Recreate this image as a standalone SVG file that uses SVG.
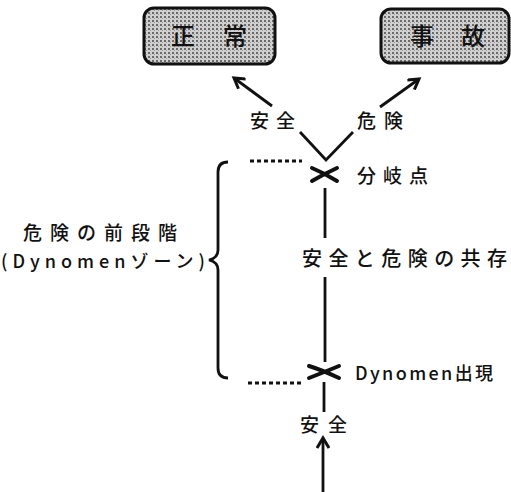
<svg xmlns="http://www.w3.org/2000/svg" width="511" height="492" viewBox="0 0 511 492">
<style>
.t{font-family:"Noto Sans CJK JP","Noto Sans",sans-serif;fill:#111;font-weight:500;}
.box{fill:url(#tone);stroke:#111;stroke-width:3;}
.ln{stroke:#111;stroke-width:2.8;fill:none;}
.x{stroke:#111;stroke-width:4;fill:none;stroke-linecap:round;}
.dot{stroke:#111;stroke-width:3;stroke-dasharray:4 3;fill:none;}
</style>
<defs>
<pattern id="tone" width="4" height="4" patternUnits="userSpaceOnUse">
<rect width="4" height="4" fill="#d0d0d0"/>
<rect width="2" height="2" fill="#6a6a6a"/>
<rect x="2" y="2" width="1" height="1" fill="#999"/>
</pattern>
<marker id="ah" viewBox="0 0 14 14" refX="11" refY="7" markerWidth="14" markerHeight="14" markerUnits="userSpaceOnUse" orient="auto">
<path d="M1,1 L11,7 L1,13" fill="none" stroke="#111" stroke-width="3"/>
</marker>
</defs>
<rect width="511" height="492" fill="#fff"/>
<g id="node-seijou">
<rect class="box" x="144" y="8" width="131" height="56" rx="10"/>
<text class="t" x="183" y="45" font-size="24" font-weight="bold" text-anchor="middle">正</text>
<text class="t" x="235" y="45" font-size="24" font-weight="bold" text-anchor="middle">常</text>
</g>
<g id="node-jiko">
<rect class="box" x="381" y="9" width="128" height="54" rx="10"/>
<text class="t" x="422" y="45" font-size="24" font-weight="bold" text-anchor="middle">事</text>
<text class="t" x="473" y="45" font-size="24" font-weight="bold" text-anchor="middle">故</text>
</g>
<g id="connectors">
<line class="ln" x1="272" y1="106" x2="234" y2="78" marker-end="url(#ah)"/>
<line class="ln" x1="380" y1="107" x2="419" y2="79" marker-end="url(#ah)"/>
<polyline class="ln" points="300,132 326,160 353,132"/>
<line class="ln" x1="325" y1="188" x2="325" y2="238"/>
<line class="ln" x1="325" y1="277" x2="325" y2="362"/>
<line class="ln" x1="324" y1="382" x2="324" y2="412"/>
<line class="ln" x1="323" y1="492" x2="323" y2="438" marker-end="url(#ah)"/>
<line class="dot" x1="250" y1="161" x2="302" y2="161"/>
<line class="dot" x1="248" y1="383" x2="302" y2="383"/>
<path class="ln" d="M228,162 Q218,162 218,172 L218,250 Q218,258 209,260 Q218,262 218,270 L218,368 Q218,378 228,378"/>
</g>
<g id="node-bunki">
<path class="x" d="M312,168 Q324,173 337,181 M312,181 Q324,174 337,168"/>
<text class="t" x="357" y="183" font-size="19" textLength="71" lengthAdjust="spacing">分岐点</text>
</g>
<g id="node-shutsugen">
<path class="x" d="M309,366 Q322,370 339,378 M309,378 Q322,373 339,366"/>
<text class="t" x="355" y="380" font-size="18" textLength="138" lengthAdjust="spacing">Dynomen出現</text>
</g>
<g id="labels">
<text class="t" x="250" y="128" font-size="19" textLength="45" lengthAdjust="spacing">安全</text>
<text class="t" x="357" y="128" font-size="19" textLength="46" lengthAdjust="spacing">危険</text>
<text class="t" x="302" y="266" font-size="20" textLength="205" lengthAdjust="spacing">安全と危険の共存</text>
<text class="t" x="300" y="432" font-size="19" textLength="47" lengthAdjust="spacing">安全</text>
<text class="t" x="23" y="240" font-size="19" textLength="154" lengthAdjust="spacing">危険の前段階</text>
<text class="t" x="1" y="268" font-size="18" textLength="204" lengthAdjust="spacing">(Dynomenゾーン)</text>
</g>
</svg>
